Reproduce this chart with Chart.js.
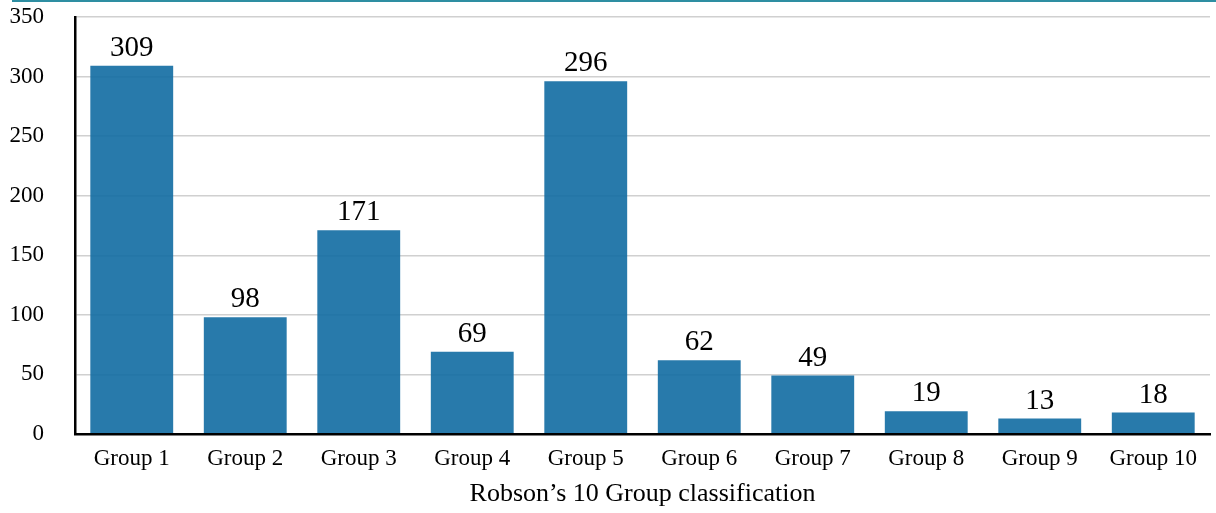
<!DOCTYPE html>
<html>
<head>
<meta charset="utf-8">
<script src="https://cdn.jsdelivr.net/npm/chart.js@4"></script>
<style>
html,body{margin:0;padding:0;background:#fff;}
#wrap{width:1216px;height:513px;position:relative;}
</style>
</head>
<body>
<div id="wrap"><canvas id="c" width="1216" height="513"></canvas></div>
<script>
const categories = ["Group 1","Group 2","Group 3","Group 4","Group 5","Group 6","Group 7","Group 8","Group 9","Group 10"];
const counts = [309, 98, 171, 69, 296, 62, 49, 19, 13, 18];
const yTicks = [0, 50, 100, 150, 200, 250, 300, 350];
const xTitle = "Robson\u2019s 10 Group classification";

const FONT = "'Liberation Serif', 'Times New Roman', serif";

const labelPlugin = {
  id: 'labels',
  afterDatasetsDraw(chart) {
    const ctx = chart.ctx;
    const meta = chart.getDatasetMeta(0);
    ctx.save();
    ctx.fillStyle = '#000';
    ctx.font = "29px " + FONT;
    ctx.textAlign = 'center';
    ctx.textBaseline = 'alphabetic';
    meta.data.forEach((bar, i) => {
      ctx.fillText(String(counts[i]), bar.x, bar.y - 10);
    });
    ctx.restore();
  },
  beforeDraw(chart) {
    const ctx = chart.ctx;
    ctx.save();
    ctx.strokeStyle = '#2e8ea2';
    ctx.lineWidth = 2;
    ctx.beginPath();
    ctx.moveTo(12, 1);
    ctx.lineTo(1216, 1);
    ctx.stroke();
    ctx.restore();
  }
};

new Chart(document.getElementById('c'), {
  type: 'bar',
  data: {
    labels: categories,
    datasets: [{
      data: counts,
      backgroundColor: 'rgba(17,108,162,0.9)',
      borderWidth: 0,
      barPercentage: 0.73,
      categoryPercentage: 1.0
    }]
  },
  options: {
    responsive: false,
    animation: false,
    layout: { padding: { top: 17, right: 6, left: 0, bottom: 0 } },
    plugins: { legend: { display: false }, tooltip: { enabled: false } },
    scales: {
      x: {
        grid: { display: false, drawTicks: false },
        border: { display: true, color: '#000', width: 2.5, z: 2 },
        ticks: { color: '#000', font: { family: FONT, size: 23 }, padding: 11, maxRotation: 0 },
        title: { display: true, text: xTitle, color: '#000', font: { family: FONT, size: 26 }, padding: { top: 0, bottom: 3 } },
        afterFit(scale) { scale.height = 79; scale.paddingLeft = 0; scale.paddingRight = 0; }
      },
      y: {
        min: 0, max: 350,
        afterBuildTicks(scale) { scale.ticks = yTicks.map(v => ({ value: v })); },
        grid: { color: '#d0d0d0', lineWidth: 1.5, drawTicks: false },
        border: { display: true, color: '#000', width: 2.5, z: 2 },
        ticks: { color: '#000', font: { family: FONT, size: 23 }, padding: 31 },
        afterFit(scale) { scale.width = 75; scale.paddingTop = 0; scale.paddingBottom = 0; }
      }
    }
  },
  plugins: [labelPlugin]
});
</script>
</body>
</html>
